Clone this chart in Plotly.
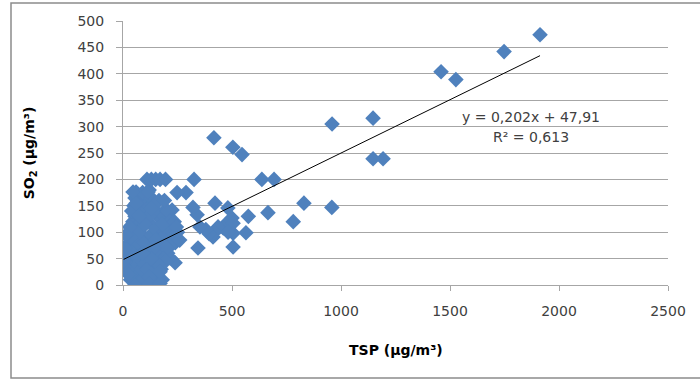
import plotly.graph_objects as go

# TSP (µg/m³) and SO2 (µg/m³) values
tsp = [1913, 1748, 1459, 1527, 1147, 1147, 1193, 959, 958, 830, 781, 665, 637, 693,
       575, 564, 505, 546, 504, 417, 422, 481, 500, 477, 505, 482, 460, 436, 413, 420,
       395, 380, 353, 344, 340, 321, 326, 289, 248, 239, 216, 225, 184, 200, 210, 225,
       240, 220, 205, 195, 505, 482,
       20, 15, 25, 30, 35, 40, 45, 50, 55, 50, 55, 60, 45, 60, 65, 70, 75, 80, 85, 90,
       95, 100, 105, 110, 115, 120, 125, 130, 135, 140, 145, 150, 155, 160, 165, 170,
       175, 180, 160, 150, 100, 90, 85, 75, 70, 65, 60, 70, 80, 90, 120, 130, 140, 150,
       160, 170, 180, 190, 200, 100, 110, 120, 105, 95, 85, 75, 35, 30, 40, 60, 110, 130,
       150, 170, 195, 115, 46, 165, 10, 5, 25, 55, 120, 170, 185, 195, 130, 140, 150,
       120, 130, 100, 75, 140, 160, 170, 190, 205, 215, 200, 180, 230, 250, 235, 245,
       260, 190, 130, 90, 3, 8, 12]
so2 = [474, 442, 404, 389, 316, 239, 239, 305, 147, 155, 120, 137, 200, 200,
       130, 99, 72, 247, 261, 279, 155, 146, 127, 118, 98, 104, 108, 110, 91, 100,
       97, 105, 110, 70, 133, 147, 200, 175, 175, 42, 51, 142, 138, 110, 100, 85,
       80, 75, 60, 95, 117, 100,
       40, 75, 60, 30, 10, 50, 85, 100, 130, 150, 165, 176, 120, 70, 40, 20, 5, 60, 95, 110,
       130, 150, 170, 120, 90, 75, 55, 35, 15, 5, 25, 45, 65, 80, 100, 60,
       30, 10, 5, 20, 0, 10, 30, 50, 80, 105, 125, 140, 160, 175, 180, 165, 150, 140,
       130, 110, 90, 75, 70, 40, 30, 15, 65, 80, 120, 100, 90, 110, 140, 155, 200, 200,
       200, 200, 200, 176, 176, 160, 45, 35, 20, 0, 2, 3, 50, 45, 95, 110, 85,
       130, 145, 115, 130, 70, 40, 25, 130, 140, 120, 105, 115, 98, 100, 120, 110,
       85, 160, 50, 60, 45, 70, 95]

slope = 0.202
intercept = 47.91
eq_text = "y = 0,202x + 47,91"
r2_text = "R² = 0,613"

x_ticks = [0, 500, 1000, 1500, 2000, 2500]
y_ticks = [0, 50, 100, 150, 200, 250, 300, 350, 400, 450, 500]

FONT = "DejaVu Sans"
TXT = "#404040"
GRID = "#A6A6A6"

fig = go.Figure()
fig.add_trace(go.Scatter(
    x=tsp, y=so2, mode="markers",
    marker=dict(symbol="diamond", size=12, color="#4F81BD", line=dict(width=0)),
    showlegend=False, hoverinfo="x+y"))

xmin, xmax = min(tsp), max(tsp)
fig.add_trace(go.Scatter(
    x=[xmin, xmax], y=[slope * xmin + intercept, slope * xmax + intercept],
    mode="lines", line=dict(color="black", width=1), showlegend=False))

fig.update_layout(
    width=700, height=380, autosize=False,
    margin=dict(l=123, r=32, t=21, b=95),
    paper_bgcolor="white", plot_bgcolor="white",
    font=dict(family=FONT, size=14, color=TXT),
    xaxis=dict(range=[0, 2500], tickvals=x_ticks, showgrid=False, zeroline=False,
               showline=True, linecolor=GRID, linewidth=1,
               ticks="outside", ticklen=5, tickcolor=GRID,
               ticklabelstandoff=8, tickfont=dict(size=14, color=TXT)),
    yaxis=dict(range=[0, 500], tickvals=y_ticks, showgrid=True, gridcolor=GRID,
               gridwidth=1, zeroline=False, showline=True, linecolor=GRID, linewidth=1,
               ticks="outside", ticklen=6, tickcolor=GRID,
               ticklabelstandoff=9, tickfont=dict(size=14, color=TXT)),
    shapes=[dict(type="rect", xref="paper", yref="paper",
                 x0=-0.2055, x1=1.07, y0=-0.352, y1=1.068,
                 line=dict(color="#8C8C8C", width=1.5), fillcolor="rgba(0,0,0,0)",
                 layer="below")],
    annotations=[
        dict(text="<b>TSP (µg/m³)</b>", xref="paper", yref="paper", x=0.5, y=-0.245,
             showarrow=False, font=dict(size=14, color="#000000"), xanchor="center",
             yanchor="middle"),
        dict(text="<b>SO<sub>2</sub> (µg/m³)</b>", xref="paper", yref="paper",
             x=-0.17, y=0.5, textangle=-90, showarrow=False,
             font=dict(size=14, color="#000000"), xanchor="center", yanchor="middle"),
        dict(text=eq_text, xref="paper", yref="paper", x=0.748, y=0.635,
             showarrow=False, font=dict(size=14, color=TXT), xanchor="center",
             yanchor="middle"),
        dict(text=r2_text, xref="paper", yref="paper", x=0.748, y=0.56,
             showarrow=False, font=dict(size=14, color=TXT), xanchor="center",
             yanchor="middle"),
    ],
)

fig.write_html("out.html", config={"displayModeBar": False},
               post_script="document.body.style.margin='0';")
